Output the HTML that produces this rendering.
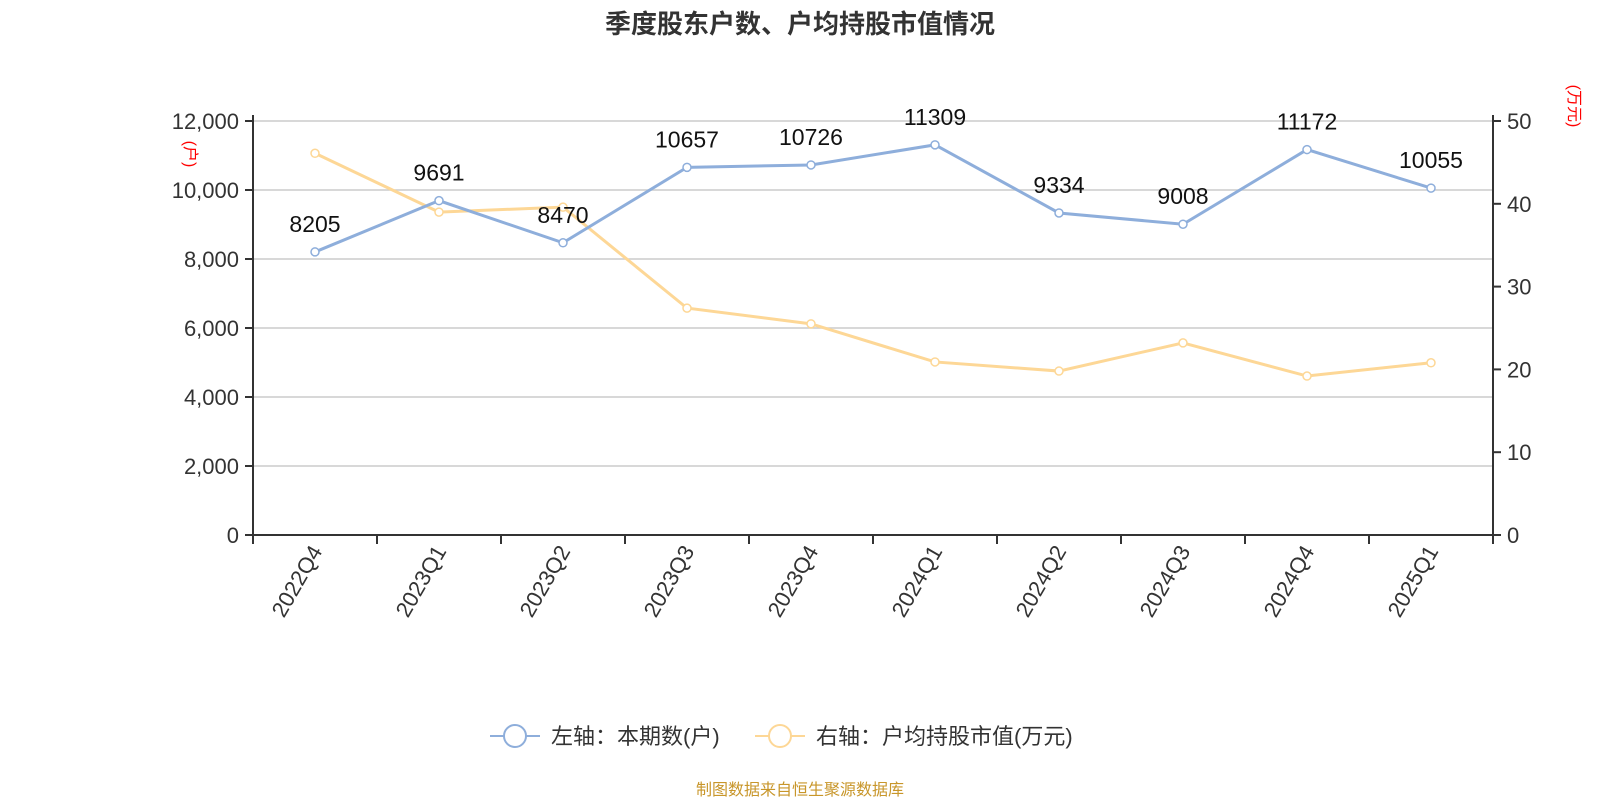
<!DOCTYPE html>
<html><head><meta charset="utf-8"><style>
body{margin:0;background:#fff;width:1600px;height:800px;overflow:hidden}
svg text{font-family:"Liberation Sans","Noto Sans CJK SC",sans-serif}
</style></head><body>
<svg id="chart" width="1600" height="800" xmlns="http://www.w3.org/2000/svg">
<text x="800" y="33" text-anchor="middle" font-size="26" font-weight="bold" fill="#333">季度股东户数、户均持股市值情况</text>
<g id="grid"></g><g id="axes"></g><g id="series"></g>
<text transform="translate(185,154) rotate(90)" text-anchor="middle" font-size="16" fill="#f00">(户)</text>
<text transform="translate(1569,106) rotate(90)" text-anchor="middle" font-size="16" fill="#f00">(万元)</text>
<g>
<g>
<line x1="490" y1="736" x2="540" y2="736" stroke="#8eaedb" stroke-width="2"/><circle cx="515" cy="736" r="11" fill="#fff" stroke="#8eaedb" stroke-width="2"/>
<text x="551" y="744" font-size="22" fill="#333">左轴：本期数(户)</text></g>
<g>
<line x1="755" y1="736" x2="805" y2="736" stroke="#fdd796" stroke-width="2"/><circle cx="780" cy="736" r="11" fill="#fff" stroke="#fdd796" stroke-width="2"/>
<text x="816" y="744" font-size="22" fill="#333">右轴：户均持股市值(万元)</text></g>
</g>
<text x="800" y="795" text-anchor="middle" font-size="16" fill="#c8962a">制图数据来自恒生聚源数据库</text>
</svg>
<script>
const categories=["2022Q4","2023Q1","2023Q2","2023Q3","2023Q4","2024Q1","2024Q2","2024Q3","2024Q4","2025Q1"];
const holders=[8205,9691,8470,10657,10726,11309,9334,9008,11172,10055];
const avgValue=[46.1,39.0,39.6,27.4,25.5,20.9,19.8,23.2,19.2,20.8];
const leftTicks=[0,2000,4000,6000,8000,10000,12000];
const rightTicks=[0,10,20,30,40,50];
const NS="http://www.w3.org/2000/svg";
const L=253,R=1493,T=121,B=535;
const step=(R-L)/categories.length;
const x=i=>L+step*(i+0.5);
const yL=v=>B-(v/12000)*(B-T);
const yR=v=>B-(v/50)*(B-T);
function mk(tag,attrs,parent){const e=document.createElementNS(NS,tag);for(const k in attrs)e.setAttribute(k,attrs[k]);parent.appendChild(e);return e;}
const grid=document.getElementById('grid'),axes=document.getElementById('axes'),ser=document.getElementById('series');
leftTicks.forEach(t=>{
 if(t>0){const g=mk('line',{x1:L,x2:R,y1:yL(t),y2:yL(t),stroke:'#ccc','stroke-width':1.5},grid);
 
 }
 const tk=mk('line',{x1:L-8,x2:L,y1:yL(t),y2:yL(t),stroke:'#333','stroke-width':2},axes);
 
 
 const tx=mk('text',{x:L-14,y:yL(t)+8,'text-anchor':'end','font-size':22,fill:'#333'},axes);
 tx.textContent=t.toLocaleString('en-US');
 
 
});
rightTicks.forEach(t=>{
 const tk=mk('line',{x1:R,x2:R+8,y1:yR(t),y2:yR(t),stroke:'#333','stroke-width':2},axes);
 
 
 const tx=mk('text',{x:R+14,y:yR(t)+8,'font-size':22,fill:'#333'},axes);
 tx.textContent=t;
 
 
});
let a=mk('line',{x1:L,x2:L,y1:T-6,y2:B,stroke:'#333','stroke-width':2},axes);


a=mk('line',{x1:R,x2:R,y1:T-6,y2:B,stroke:'#333','stroke-width':2},axes);


a=mk('line',{x1:L,x2:R,y1:B,y2:B,stroke:'#333','stroke-width':2},axes);


for(let i=0;i<=categories.length;i++){
 const tk=mk('line',{x1:L+step*i,x2:L+step*i,y1:B,y2:B+9,stroke:'#333','stroke-width':2},axes);
 
 
}
categories.forEach((c,i)=>{
 const tx=mk('text',{transform:`translate(${x(i)+8},${B+16}) rotate(-60)`,'text-anchor':'end','font-size':22,fill:'#333'},axes);
 tx.textContent=c;
 
 
});
function line(vals,yf,color,name,labels){
 const p=mk('polyline',{points:vals.map((v,i)=>x(i)+','+yf(v)).join(' '),fill:'none',stroke:color,'stroke-width':3},ser);
 
 
 vals.forEach((v,i)=>{
  const c=mk('circle',{cx:x(i),cy:yf(v),r:4,fill:'#fff',stroke:color,'stroke-width':1.5},ser);
  
  
  if(labels){const t=mk('text',{x:x(i),y:yf(v)-20,'text-anchor':'middle','font-size':23,fill:'#111'},ser);
  t.textContent=v;
  
  }
 });
}
line(avgValue,yR,'#fdd796','avg-value',false);
line(holders,yL,'#8eaedb','holders',true);
</script>
</body></html>
